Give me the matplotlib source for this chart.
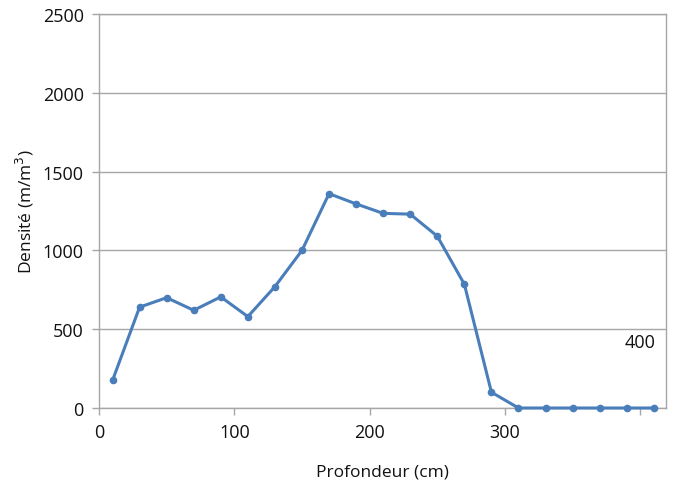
import numpy as np
import matplotlib
matplotlib.use("Agg")
import matplotlib.pyplot as plt

# profondeur (cm) et densité (m/m3)
profondeur = [10, 30, 50, 70, 90, 110, 130, 150, 170, 190, 210, 230, 250,
              270, 290, 310, 330, 350, 370, 390, 410]
densite = [175, 640, 700, 620, 705, 580, 770, 1000, 1360, 1295, 1235, 1230,
           1090, 785, 100, 0, 0, 0, 0, 0, 0]
xticks = [0, 100, 200, 300, 400]
xticklabels = ["0", "100", "200", "300", ""]
yticks = [0, 500, 1000, 1500, 2000, 2500]

plt.rcParams["font.family"] = ["Open Sans", "DejaVu Sans"]

fig = plt.figure(figsize=(6.73, 4.85), dpi=100)
ax = fig.add_axes([99/673, 1 - 409/485, 567/673, 394/485])

ax.plot(profondeur, densite, color="#4a7ebb", lw=2.2, marker="o", ms=4.5,
        clip_on=False, zorder=3)

ax.set_xlim(0, 419)
ax.set_ylim(0, 2500)
ax.set_xticks(xticks)
ax.set_xticklabels(xticklabels)
ax.set_yticks(yticks)
ax.yaxis.grid(True, color="#a6a6a6", lw=1)
ax.set_axisbelow(True)
for s in ax.spines.values():
    s.set_color("#a6a6a6")
    s.set_linewidth(1)
ax.tick_params(axis="both", colors="#a6a6a6", labelcolor="#111111",
               labelsize=13, length=5, width=1, direction="out")
ax.tick_params(axis="y", pad=6)
ax.tick_params(axis="x", pad=6)

# étiquette 400 déplacée dans la zone du graphique (comme sur l'original)
ax.text(400, 420, "400", ha="center", va="center", fontsize=13,
        color="#111111")

ax.set_xlabel("Profondeur (cm)", fontsize=12.5, labelpad=16, color="#111111")
ax.set_ylabel("Densité (m/m$^3$)", fontsize=12.5, labelpad=5, color="#111111")

fig.savefig("out.png", dpi=100)
